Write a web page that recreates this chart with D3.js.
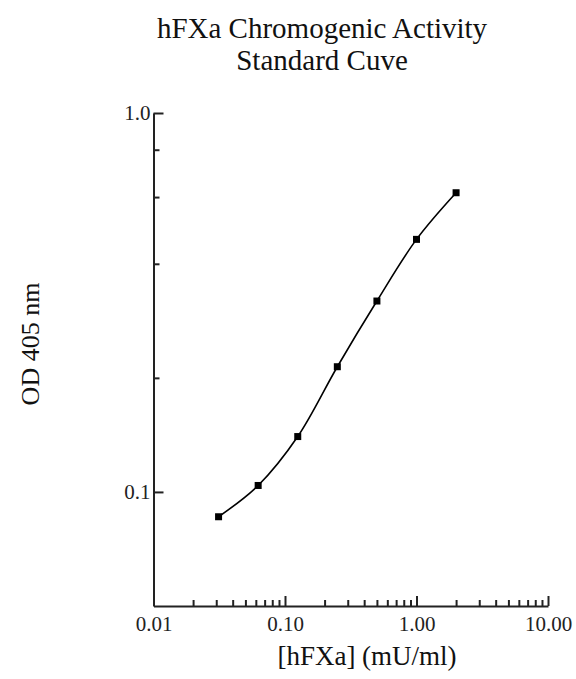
<!DOCTYPE html>
<html>
<head>
<meta charset="utf-8">
<script src="https://cdn.jsdelivr.net/npm/d3@7"></script>
<style>
  body { margin: 0; background: #fff; }
  svg { display: block; font-family: "Liberation Serif", "Times New Roman", serif; }
  .axis path, .axis line { stroke: #222; stroke-width: 2; }
  .axis text { fill: #222; font-size: 21px; font-family: "Liberation Serif", serif; }
</style>
</head>
<body>
<svg id="chart" width="576" height="679"></svg>
<script>
// hFXa standard curve (doubling dilutions)
const concentrations = [0.03125, 0.0625, 0.125, 0.25, 0.5, 1, 2];
const od405 = [0.086, 0.104, 0.140, 0.214, 0.319, 0.464, 0.616];

const xMajor = [0.01, 0.1, 1, 10];
const xMajorLabels = ["0.01", "0.10", "1.00", "10.00"];
const yMajor = [0.1, 1.0];
const yMajorLabels = ["0.1", "1.0"];
const yMinor = [0.2, 0.4, 0.6, 0.8];

const titleLines = ["hFXa Chromogenic Activity", "Standard Cuve"];
const xTitle = "[hFXa] (mU/ml)";
const yTitle = "OD 405 nm";

const svg = d3.select("#chart");

const x = d3.scaleLog().domain([0.01, 10]).range([153.5, 548]);
const y = d3.scaleLog().domain([0.05, 1.0]).range([606, 113]);

// minor x ticks: 2..9 in every decade
const xMinor = [];
[0.01, 0.1, 1].forEach((d) => {
  for (let k = 2; k <= 9; k++) xMinor.push(d * k);
});

// x axis
const xAxisG = svg.append("g")
  .attr("class", "axis")
  .attr("transform", `translate(0,${y.range()[0]})`);

xAxisG.append("g")
  .call(d3.axisBottom(x).tickValues(xMinor).tickSize(-6).tickSizeOuter(0).tickFormat(""))
  .call((g) => g.select(".domain").remove());

xAxisG.append("g")
  .call(d3.axisBottom(x)
    .tickValues(xMajor)
    .tickSize(-10)
    .tickSizeOuter(0)
    .tickPadding(10)
    .tickFormat((d, i) => xMajorLabels[i]))
  .call((g) => g.selectAll("text").attr("dy", "0.71em").attr("y", 10));

// y axis
const yAxisG = svg.append("g")
  .attr("class", "axis")
  .attr("transform", `translate(${x.range()[0]},0)`);

yAxisG.append("g")
  .call(d3.axisLeft(y).tickValues(yMinor).tickSize(-6).tickSizeOuter(0).tickFormat(""))
  .call((g) => g.select(".domain").remove());

yAxisG.append("g")
  .call(d3.axisLeft(y)
    .tickValues(yMajor)
    .tickSize(-10)
    .tickSizeOuter(0)
    .tickFormat((d, i) => yMajorLabels[i]))
  .call((g) => g.selectAll("text").attr("x", -3));

// fitted curve through the standards
const pts = concentrations.map((c, i) => [x(c), y(od405[i])]);

svg.append("path")
  .datum(pts)
  .attr("fill", "none")
  .attr("stroke", "#000")
  .attr("stroke-width", 1.6)
  .attr("d", d3.line().curve(d3.curveCatmullRom.alpha(0.5)));

svg.append("g")
  .selectAll("rect")
  .data(pts)
  .join("rect")
  .attr("x", (d) => d[0] - 3.5)
  .attr("y", (d) => d[1] - 3.5)
  .attr("width", 7)
  .attr("height", 7)
  .attr("fill", "#000");

// titles
svg.append("text")
  .attr("x", 322)
  .attr("text-anchor", "middle")
  .attr("font-size", 29)
  .attr("fill", "#111")
  .selectAll("tspan")
  .data(titleLines)
  .join("tspan")
  .attr("x", 322)
  .attr("y", (d, i) => 38 + i * 32)
  .text((d) => d);

svg.append("text")
  .attr("x", 367)
  .attr("y", 665)
  .attr("text-anchor", "middle")
  .attr("font-size", 27)
  .attr("fill", "#111")
  .text(xTitle);

svg.append("text")
  .attr("transform", "translate(39,344) rotate(-90)")
  .attr("text-anchor", "middle")
  .attr("font-size", 26)
  .attr("fill", "#111")
  .text(yTitle);
</script>
</body>
</html>
